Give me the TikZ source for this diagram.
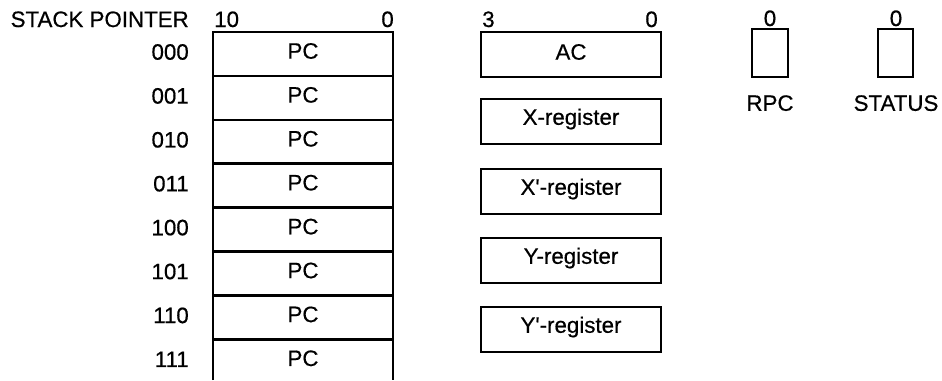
\documentclass[tikz,border=0pt]{standalone}
\usepackage{fontspec}
\setmainfont{Liberation Sans}[FakeBold=0.5]
\usetikzlibrary{positioning}

\begin{document}
\begin{tikzpicture}[x=0.02cm, y=-0.02cm, line width=1.4pt,
    lbl/.style={font=\fontsize{12.7}{14}\selectfont, inner sep=0pt},
    regbox/.style={draw, line width=1.4pt}]
    \useasboundingbox (0,0) rectangle (942,380);

    % Stack of eight PC entries (open at the bottom)
    \node[lbl, anchor=base east] (sp) at (190,27) {STACK POINTER};
    \node[lbl, anchor=base west] (sphi) at (213,27) {10};
    \node[lbl, anchor=base east] (splo) at (395,27) {0};
    \draw (213,380) -- (213,32) -- (393,32) -- (393,380);
    \foreach \i/\addr in {0/000,1/001,2/010,3/011,4/100,5/101,6/110,7/111} {
        \pgfmathsetmacro\ytop{32+43.9*\i}
        \draw (213,\ytop) -- (393,\ytop);
        \node[lbl] (pc\i) at (303,\ytop+19) {PC};
        \node[lbl, anchor=east] (addr\i) at (190,\ytop+20) {\addr};
    }

    % Four-bit registers
    \node[lbl, anchor=base west] (achi) at (481,27) {3};
    \node[lbl, anchor=base east] (aclo) at (659,27) {0};
    \foreach \nm/\txt/\ytop in {ac/AC/32, xr/X-register/99, xpr/X\textquotesingle-register/169,
                               yr/Y-register/238, ypr/Y\textquotesingle-register/307} {
        \draw[regbox] (481,\ytop) rectangle (661,\ytop+45);
        \node[lbl] (\nm) at (571,\ytop+20) {\txt};
    }

    % One-bit registers
    \draw[regbox] (752,29) rectangle (788,77);
    \node[lbl, anchor=base] (rpcbit) at (770,26) {0};
    \node[lbl, anchor=north] (rpc) at (770,94) {RPC};

    \draw[regbox] (878,29) rectangle (913,77);
    \node[lbl, anchor=base] (stbit) at (896,26) {0};
    \node[lbl, anchor=north] (status) at (896,94) {STATUS};

\end{tikzpicture}
\end{document}
